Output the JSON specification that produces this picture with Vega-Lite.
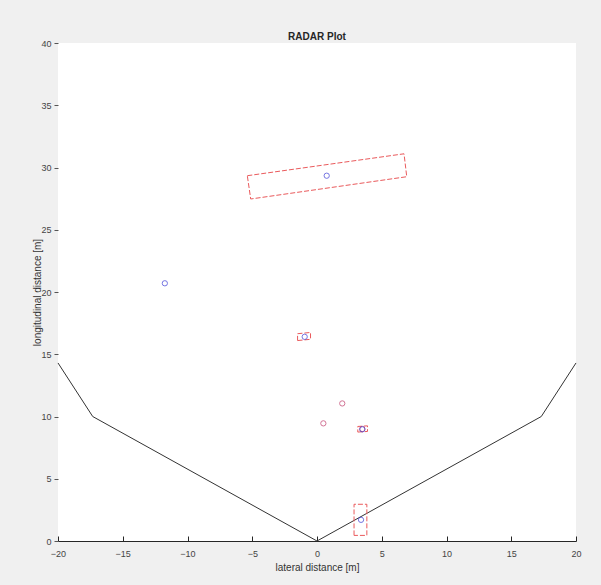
{
  "$schema": "https://vega.github.io/schema/vega-lite/v6.json",
  "width": 518,
  "height": 498,
  "autosize": {"type": "none"},
  "padding": {"left": 58, "top": 43, "right": 25, "bottom": 44},
  "background": "#f0f0f0",
  "config": {
    "view": {"fill": "white", "stroke": null},
    "font": "Liberation Sans"
  },
  "title": {"text": "RADAR Plot", "fontSize": 10, "fontWeight": "bold", "color": "#262626", "offset": -3, "font": "Liberation Sans"},
  "datasets": {
    "shapes": [
      {"kind": "fov", "id": "fov", "ord": 1, "x": -20, "y": 14.3},
      {"kind": "fov", "id": "fov", "ord": 2, "x": -17.32, "y": 10},
      {"kind": "fov", "id": "fov", "ord": 3, "x": 0, "y": 0},
      {"kind": "fov", "id": "fov", "ord": 4, "x": 17.32, "y": 10},
      {"kind": "fov", "id": "fov", "ord": 5, "x": 20, "y": 14.3},
      {"kind": "box", "id": "b1", "ord": 1, "x": -5.38, "y": 29.34},
      {"kind": "box", "id": "b1", "ord": 2, "x": 6.72, "y": 31.1},
      {"kind": "box", "id": "b1", "ord": 3, "x": 6.93, "y": 29.26},
      {"kind": "box", "id": "b1", "ord": 4, "x": -5.12, "y": 27.47},
      {"kind": "box", "id": "b1", "ord": 5, "x": -5.38, "y": 29.34},
      {"kind": "box", "id": "b2", "ord": 1, "x": 2.86, "y": 0.45},
      {"kind": "box", "id": "b2", "ord": 2, "x": 2.86, "y": 2.95},
      {"kind": "box", "id": "b2", "ord": 3, "x": 3.85, "y": 2.95},
      {"kind": "box", "id": "b2", "ord": 4, "x": 3.85, "y": 0.45},
      {"kind": "box", "id": "b2", "ord": 5, "x": 2.86, "y": 0.45},
      {"kind": "box", "id": "b3", "ord": 1, "x": -1.5, "y": 16.1},
      {"kind": "box", "id": "b3", "ord": 2, "x": -0.5, "y": 16.2},
      {"kind": "box", "id": "b3", "ord": 3, "x": -0.5, "y": 16.75},
      {"kind": "box", "id": "b3", "ord": 4, "x": -1.5, "y": 16.65},
      {"kind": "box", "id": "b3", "ord": 5, "x": -1.5, "y": 16.1},
      {"kind": "box", "id": "b4", "ord": 1, "x": 3.15, "y": 8.75},
      {"kind": "box", "id": "b4", "ord": 2, "x": 3.9, "y": 8.8},
      {"kind": "box", "id": "b4", "ord": 3, "x": 3.9, "y": 9.25},
      {"kind": "box", "id": "b4", "ord": 4, "x": 3.15, "y": 9.2},
      {"kind": "box", "id": "b4", "ord": 5, "x": 3.15, "y": 8.75}
    ],
    "points": [
      {"x": 0.75, "y": 29.34, "c": "blue"},
      {"x": -11.75, "y": 20.7, "c": "blue"},
      {"x": -0.95, "y": 16.4, "c": "blue"},
      {"x": 1.95, "y": 11.05, "c": "red"},
      {"x": 0.49, "y": 9.45, "c": "red"},
      {"x": 3.5, "y": 9.0, "c": "red"},
      {"x": 3.5, "y": 8.97, "c": "blue"},
      {"x": 3.4, "y": 1.7, "c": "blue"}
    ]
  },
  "layer": [
    {
      "data": {"name": "shapes"},
      "transform": [{"filter": "datum.kind == 'fov'"}],
      "mark": {"type": "line", "color": "#333333", "strokeWidth": 1},
      "encoding": {
        "x": {"field": "x", "type": "quantitative", "scale": {"domain": [-20, 20], "nice": false, "zero": false},
          "axis": {"values": [-20, -15, -10, -5, 0, 5, 10, 15, 20], "title": "lateral distance [m]", "grid": false,
            "domainColor": "#262626", "tickColor": "#262626", "tickSize": -5, "labelPadding": 13, "labelFlush": false,
            "labelColor": "#444444", "labelFontSize": 9, "titleFontSize": 10, "titleFontWeight": "normal", "titleColor": "#333333", "titlePadding": 4}},
        "y": {"field": "y", "type": "quantitative", "scale": {"domain": [0, 40], "nice": false},
          "axis": {"values": [0, 5, 10, 15, 20, 25, 30, 35, 40], "title": "longitudinal distance [m]", "grid": false,
            "domain": false, "tickColor": "#555555", "tickSize": 4, "labelPadding": 3, "labelFlush": false,
            "labelColor": "#444444", "labelFontSize": 9, "titleFontSize": 10, "titleFontWeight": "normal", "titleColor": "#333333", "titlePadding": -2}},
        "order": {"field": "ord", "type": "quantitative"}
      }
    },
    {
      "data": {"name": "shapes"},
      "transform": [{"filter": "datum.kind == 'box'"}],
      "mark": {"type": "line", "color": "#ea5a5c", "strokeWidth": 1, "strokeDash": [5, 2]},
      "encoding": {
        "x": {"field": "x", "type": "quantitative"},
        "y": {"field": "y", "type": "quantitative"},
        "detail": {"field": "id"},
        "order": {"field": "ord", "type": "quantitative"}
      }
    },
    {
      "data": {"name": "points"},
      "mark": {"type": "point", "shape": "circle", "filled": false, "size": 28, "strokeWidth": 1},
      "encoding": {
        "x": {"field": "x", "type": "quantitative"},
        "y": {"field": "y", "type": "quantitative"},
        "color": {"field": "c", "type": "nominal", "scale": {"domain": ["blue", "red"], "range": ["#3b3bd6", "#c03a6a"]}, "legend": null}
      }
    }
  ]
}
